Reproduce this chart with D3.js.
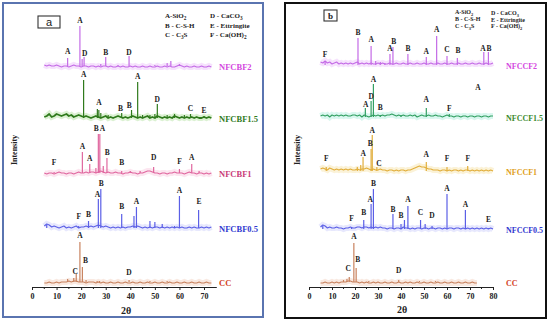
<!DOCTYPE html>
<html>
<head>
<meta charset="utf-8">
<script src="https://cdn.jsdelivr.net/npm/d3@7"></script>
<style>
  body { margin: 0; background: #fff; }
  svg { display: block; font-family: "Liberation Serif", "DejaVu Serif", serif; }
</style>
</head>
<body>
<svg id="chart" width="550" height="322"></svg>
<script>
// ---- data ----
// x ticks
const ticksA = [0, 10, 20, 30, 40, 50, 60, 70];
const ticksB = [0, 10, 20, 30, 40, 50, 60, 70, 80];

// background scan, one value per degree 2θ from 5
const bgBF2  = [2,1,2,1,1,2,1,0,1,1, 0,1,2,1,1,0,1,1,0,1, 1,0,1,0,1,1,0,1,0,0, 1,0,1,0,0,1,0,1,0,0, 1,0,0,1,0,0,1,0,0,1, 0,1,0,0,1,2,1,0,1,0, 0,1,0,0,1,0,0,1,0];
const bgBF15 = [2,3,5,2,3,5,4,3,4,5, 3,4,2,3,4,3,2,3,2,1, 2,3,2,1,2,3,1,2,1,2, 3,2,1,2,1,2,3,2,1,2, 1,2,3,1,2,1,3,2,1,2, 1,2,1,3,2,1,2,1,2,1, 2,1,2,1,1,2,1,2,1];
const bgBF1  = [1,0,1,1,0,1,2,1,1,0, 1,1,0,1,2,1,1,2,1,2, 2,1,2,3,2,1,2,1,1,2, 1,1,0,1,1,2,1,1,0,1, 1,2,3,3,2,1,1,0,1,1, 0,1,1,2,1,1,1,0,1,2, 1,1,0,1,1,0,1,0,1];
const bgBF05 = [3,5,4,2,3,2,1,2,3,1, 2,1,2,3,1,2,2,3,2,3, 2,3,4,3,2,3,2,1,2,1, 2,1,2,1,2,2,3,2,3,2, 1,2,1,2,1,2,2,1,2,1, 2,1,2,1,2,1,2,1,1,2, 1,2,1,1,2,1,2,1,2];
const bgCCa  = [0,0,1,0,0,1,0,1,1,1, 2,1,2,2,1,1,1,0,1,1, 1,0,1,0,1,0,0,1,0,0, 1,0,0,1,0,0,1,0,0,1, 0,0,1,0,0,1,0,0,1,0, 0,1,0,0,1,0,0,1,0,0, 1,0,0,1,0,0,1,0,0];

const bgCF2  = [4,3,5,3,4,2,3,4,2,3, 2,3,2,3,2,3,4,2,3,2, 3,2,3,2,2,3,2,3,2,2, 3,2,2,3,2,2,3,2,2,3, 2,2,3,2,2,3,2,2,3,2, 2,3,2,2,3,2,2,3,2,2, 3,2,2,3,2,2,3,2,2,3, 2,2,3,2,2,3];
const bgCF15 = [2,3,2,3,1,3,2,3,2,3, 2,3,2,2,3,3,2,3,1,3, 2,1,2,3,2,3,2,3,2,3, 3,4,3,2,3,2,3,2,2,3, 2,3,1,2,3,2,2,3,2,2, 3,2,2,1,2,3,2,2,1,2, 2,1,2,2,1,2,2,1,2,2, 1,2,2,1,2,2];
const bgCF1  = [3,4,3,2,4,3,2,3,2,3, 2,3,2,3,2,2,3,2,3,3, 4,3,2,3,2,2,3,2,2,1, 2,2,1,2,1,2,2,1,2,2, 3,4,5,6,5,5,4,3,3,2, 2,2,1,2,2,1,2,1,2,2, 1,2,1,2,2,1,2,1,2,1, 2,1,2,1,2,1];
const bgCF05 = [3,5,4,2,3,2,2,3,2,2, 1,2,2,3,2,2,3,3,2,3, 3,2,3,2,3,2,3,2,2,1, 2,2,1,2,2,1,3,2,2,1, 2,1,2,2,1,2,2,1,2,2, 1,2,2,1,2,1,2,2,1,2, 2,1,2,1,2,1,2,1,2,1, 2,1,2,1,2,1];
const bgCCb  = [0,0,1,0,0,1,0,1,0,1, 1,1,2,2,1,1,1,0,1,0, 1,0,0,1,0,1,0,0,1,0, 0,1,0,0,1,0,0,1,0,1, 0,0,1,0,0,1,0,0,1,0, 0,1,0,0,1,0,0,1,0,0, 1,0,0,1,0,0,1,0,0];

// peaks: [2θ, intensity above baseline]
const pkBF2  = [[14.5,9],[19.5,41],[20.4,8],[21.2,10],[28,3],[30,10],[35,2],[39.5,11],[50,2],[55,4],[56.5,6],[60,3]];
const pkBF15 = [[21,39],[26.6,10],[27.2,9],[28,6],[31,4],[36.5,6],[40.5,9],[43,37],[45,4],[48,4],[50,5],[51,15],[55,4],[58,5],[62,4],[64.5,5],[70,3]];
const pkBF1  = [[9,2],[20.5,22],[23.5,10],[26,6],[27,40],[27.6,40],[29,8],[30.5,16],[36.5,3],[40,3],[44,3],[49.5,7],[60,5],[65,10],[68,3]];
const pkBF05 = [[6,4],[19,3],[23,8],[27,30],[28,40],[36.5,15],[41.5,13],[42.5,22],[48,8],[50,7],[53,5],[58,3],[60,33],[67.8,19]];
const pkCCa  = [[14.5,4],[17,5],[18,9],[19.5,41],[20.5,16],[22,3],[26.5,2],[27.5,2],[39.5,3],[48,2],[55,2]];

const pkCF2  = [[7,4],[21.3,28],[27,20],[29,5],[31,4],[33,3],[35.2,12],[36.5,19],[43,12],[51,9],[55.5,30],[60,10],[64.5,8],[76,14],[78,14]];
const pkCF15 = [[24.5,10],[27,17],[28,34],[31,3],[40,3],[51,10],[61,4]];
const pkCF1  = [[7.5,5],[21,5],[22.5,7],[23.5,15],[27,23],[27.5,37],[29.5,5],[51,10],[60,5],[69,6]];
const pkCF05 = [[6,4],[18.5,3],[23.8,10],[27,26],[28,41],[36.5,16],[40,6],[41.5,10],[43,24],[48.5,10],[50.5,6],[53.5,4],[60,36],[68,20],[78,2]];
const pkCCb  = [[15,3],[16.5,4],[17.5,6],[19.5,40],[20.5,15],[26,2],[39,3],[48,2],[55,2]];

// peak letters: [2θ, letter, height of text baseline]
const lbBF2  = [[14.5,"A",13],[19.5,"A",44],[21.4,"D",11],[30,"B",12],[39.5,"D",12]];
const lbBF15 = [[21,"A",42],[27.3,"A",14],[36,"B",8],[39.6,"B",11],[43,"A",40],[51,"D",17],[64.5,"C",8],[70,"E",6]];
const lbBF1  = [[26.1,"B",43],[28.7,"A",43],[20.5,"A",25],[23.5,"A",13],[30.6,"B",19],[36.5,"B",9],[49.5,"D",14],[60,"F",10],[65,"A",14],[9,"F",9]];
const lbBF05 = [[26.6,"A",32],[28.2,"B",43],[23,"B",12],[19,"F",10],[36.5,"B",20],[42.5,"A",25],[60,"A",36],[68,"E",25]];
const lbCCa  = [[19.5,"A",45],[21.8,"B",20],[17.6,"C",9],[39.5,"D",8]];

const lbCF2  = [[21.3,"B",31],[27,"A",24],[35.2,"A",15],[36.8,"B",22],[43,"B",15],[51,"A",12],[55.5,"A",34],[60,"C",14],[64.8,"B",13],[75.6,"A",15],[78.3,"B",15],[7,"F",9]];
const lbCF15 = [[28,"A",36],[27,"D",19],[24.7,"A",11],[31,"B",8],[51,"A",16],[61,"F",7],[73.5,"A",28]];
const lbCF1  = [[27.5,"A",39],[26.6,"B",26],[23.6,"A",16],[30.4,"C",6],[51,"A",15],[60,"F",11],[69,"F",11],[7.5,"F",11]];
const lbCF05 = [[28,"B",44],[26.6,"A",28],[23.8,"B",15],[18.5,"F",9],[36.5,"B",18],[40,"B",12],[43,"A",28],[48.5,"C",15],[53.5,"D",12],[60,"A",39],[68,"A",23],[78,"E",8]];
const lbCCb  = [[19.5,"A",44],[21.2,"B",21],[17,"C",12],[39,"D",10]];

// trace names
const namesA = ["NFCBF2", "NFCBF1.5", "NFCBF1", "NFCBF0.5", "CC"];
const namesB = ["NFCCF2", "NFCCF1.5", "NFCCF1", "NFCCF0.5", "CC"];

// legend lines
const legendLeft  = [["A-SiO", "2", ""], ["B - C-S-H", "", ""], ["C - C", "3", "S"]];
const legendRight = [["D - CaCO", "3", ""], ["E - Ettringite", "", ""], ["F - Ca(OH)", "2", ""]];

// ---- drawing ----
const svg = d3.select("#chart");

// trace styles
const styles = {
  v:  {line: "#c46be6", halo: "#edc6fb", label: "#d447e0"},
  g:  {line: "#2f7a1c", halo: "#b7e3a6", label: "#2f7a1c"},
  p:  {line: "#e0679f", halo: "#f9cde2", label: "#c93a78"},
  b:  {line: "#5b5fe6", halo: "#cfd1fb", label: "#3038d0"},
  c:  {line: "#c8825e", halo: "#f4d3c4", label: "#d23d1c"},
  t:  {line: "#33a062", halo: "#b4f0df", label: "#3c8a2c"},
  y:  {line: "#e1ae3c", halo: "#f8e5b0", label: "#e0a020"}
};

function panel(cfg) {
  const g = svg.append("g");

  // border
  g.append("rect")
    .attr("x", cfg.box[0]).attr("y", cfg.box[1])
    .attr("width", cfg.box[2]).attr("height", cfg.box[3])
    .attr("fill", "none")
    .attr("stroke", cfg.border)
    .attr("stroke-width", cfg.borderW);

  const x = d3.scaleLinear().domain(cfg.xDomain).range(cfg.xRange);
  const y = d3.scaleLinear().domain([0, 280]).range([287, 7]);

  // x axis
  const axis = d3.axisBottom(x)
    .tickValues(cfg.ticks)
    .tickSize(3)
    .tickSizeOuter(0)
    .tickPadding(3);
  const ax = g.append("g")
    .attr("transform", `translate(0,${y(0)})`)
    .call(axis);
  ax.select(".domain").attr("stroke", "#222").attr("stroke-width", 1.1);
  ax.selectAll(".tick line").attr("stroke", "#222");
  ax.selectAll("text")
    .attr("font-size", 8)
    .attr("font-weight", "bold")
    .attr("font-family", "Liberation Serif")
    .attr("fill", "#222");
  // minor ticks
  const minor = d3.range(5, cfg.xDomain[1], 10);
  ax.selectAll(".minor").data(minor).join("line")
    .attr("x1", d => x(d)).attr("x2", d => x(d))
    .attr("y1", 0).attr("y2", 2)
    .attr("stroke", "#222");

  g.append("text")
    .attr("x", cfg.thetaPos[0]).attr("y", cfg.thetaPos[1])
    .attr("text-anchor", "middle")
    .attr("font-size", 10).attr("font-weight", "bold")
    .attr("fill", "#222")
    .text("2θ");

  g.append("text")
    .attr("transform", `translate(${cfg.intPos[0]},${cfg.intPos[1]}) rotate(-90)`)
    .attr("text-anchor", "middle")
    .attr("font-size", 8).attr("font-weight", "bold")
    .attr("fill", "#222")
    .text("Intensity");

  // traces
  const line = d3.line()
    .x(d => x(d[0]))
    .y(d => y(d[1]));

  cfg.traces.forEach((t, k) => {
    const st = styles[t.style];
    const pts = t.bg.map((v, i) => [5 + i, t.offset + v]);
    const tg = g.append("g");

    // soft halo band under the scan
    tg.append("path")
      .attr("d", line(pts))
      .attr("fill", "none")
      .attr("stroke", st.halo)
      .attr("stroke-width", 6)
      .attr("stroke-opacity", 0.5);

    tg.append("path")
      .attr("d", line(pts))
      .attr("fill", "none")
      .attr("stroke", st.line)
      .attr("stroke-width", t.width || 1.1)
      .attr("stroke-linejoin", "round");

    tg.selectAll(".pk").data(t.peaks).join("line")
      .attr("x1", d => x(d[0])).attr("x2", d => x(d[0]))
      .attr("y1", y(t.offset + 1))
      .attr("y2", d => y(t.offset + d[1]))
      .attr("stroke", st.line)
      .attr("stroke-width", 1.2);

    tg.selectAll(".lb").data(t.labels).join("text")
      .attr("x", d => x(d[0]))
      .attr("y", d => y(t.offset + d[2]))
      .attr("text-anchor", "middle")
      .attr("font-size", 7.5)
      .attr("font-weight", "bold")
      .attr("fill", "#222")
      .text(d => d[1]);

    tg.append("text")
      .attr("x", cfg.nameX)
      .attr("y", y(t.offset) + 3)
      .attr("font-size", cfg.nameFont)
      .attr("font-weight", "bold")
      .attr("fill", st.label)
      .text(cfg.names[k]);
  });

  // panel letter box
  g.append("rect")
    .attr("x", cfg.tag[0]).attr("y", cfg.tag[1])
    .attr("width", cfg.tag[2]).attr("height", cfg.tag[3])
    .attr("fill", "#fff")
    .attr("stroke", "#333")
    .attr("stroke-width", 1.1);
  g.append("text")
    .attr("x", cfg.tag[0] + cfg.tag[2] / 2)
    .attr("y", cfg.tag[1] + cfg.tag[3] / 2 + 3.5)
    .attr("text-anchor", "middle")
    .attr("font-size", cfg.tagFont)
    .attr("font-weight", cfg.tagWeight)
    .attr("font-family", cfg.tagFamily)
    .attr("fill", "#222")
    .text(cfg.tagText);

  // legend
  function legendCol(items, x0, ys) {
    items.forEach((it, i) => {
      const tx = g.append("text")
        .attr("x", x0).attr("y", ys[i])
        .attr("font-size", cfg.legFont)
        .attr("font-weight", "bold")
        .attr("fill", "#222");
      tx.append("tspan").text(it[0]);
      if (it[1]) tx.append("tspan").attr("dy", 1.5).attr("font-size", cfg.legFont * 0.75).text(it[1]);
      if (it[2]) tx.append("tspan").attr("dy", -1.5).text(it[2]);
    });
  }
  legendCol(legendLeft, cfg.legL, cfg.legYL);
  legendCol(legendRight, cfg.legR, cfg.legYR);
}

panel({
  box: [3, 3, 260, 314], border: "#5a74b0", borderW: 2,
  xDomain: [0, 75], xRange: [32, 216.3], ticks: ticksA,
  thetaPos: [126, 314], intPos: [17, 150],
  nameX: 219, nameFont: 8.5, names: namesA,
  traces: [
    {bg: bgBF2,  peaks: pkBF2,  labels: lbBF2,  offset: 220, style: "v"},
    {bg: bgBF15, peaks: pkBF15, labels: lbBF15, offset: 168, style: "g", width: 1.8},
    {bg: bgBF1,  peaks: pkBF1,  labels: lbBF1,  offset: 113, style: "p"},
    {bg: bgBF05, peaks: pkBF05, labels: lbBF05, offset: 58,  style: "b"},
    {bg: bgCCa,  peaks: pkCCa,  labels: lbCCa,  offset: 4,   style: "c"}
  ],
  tag: [38, 16, 22, 12], tagText: "a", tagFont: 11, tagWeight: "normal", tagFamily: "Liberation Sans",
  legFont: 7, legL: 165, legR: 210, legYL: [18, 28, 37], legYR: [18, 28, 37]
});

panel({
  box: [285, 3, 261, 315], border: "#111", borderW: 2,
  xDomain: [0, 80], xRange: [309, 493], ticks: ticksB,
  thetaPos: [402, 313], intPos: [300, 150],
  nameX: 506, nameFont: 8, names: namesB,
  traces: [
    {bg: bgCF2,  peaks: pkCF2,  labels: lbCF2,  offset: 221, style: "v"},
    {bg: bgCF15, peaks: pkCF15, labels: lbCF15, offset: 169, style: "t"},
    {bg: bgCF1,  peaks: pkCF1,  labels: lbCF1,  offset: 115, style: "y"},
    {bg: bgCF05, peaks: pkCF05, labels: lbCF05, offset: 57,  style: "b"},
    {bg: bgCCb,  peaks: pkCCb,  labels: lbCCb,  offset: 4,   style: "c"}
  ],
  tag: [324, 10, 13, 11], tagText: "b", tagFont: 9, tagWeight: "bold", tagFamily: "Liberation Serif",
  legFont: 6, legL: 455, legR: 491, legYL: [14, 21, 28], legYR: [15, 21.5, 28]
});
</script>
</body>
</html>
